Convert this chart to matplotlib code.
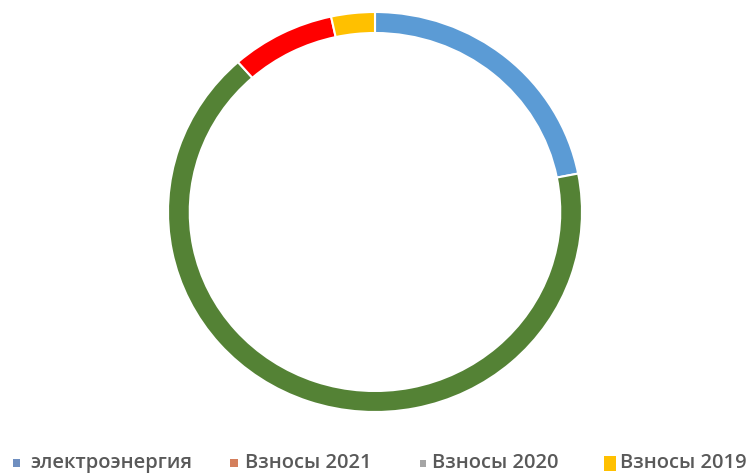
import matplotlib
matplotlib.use("Agg")
import matplotlib.pyplot as plt
from matplotlib.patches import Rectangle

# Ring segments (clockwise from top)
segment_values = [21.9, 66.5, 8.1, 3.4]
segment_colors = ["#5B9BD5", "#548235", "#FF0000", "#FFC000"]

# Legend entries (as shown under the chart)
legend_labels = ["электроэнергия", "Взносы 2021", "Взносы 2020", "Взносы 2019"]
legend_colors = ["#6F8FC0", "#D47F5C", "#A5A5A5", "#FFC000"]

W, H = 749, 474
fig = plt.figure(figsize=(W / 100, H / 100), dpi=100)
fig.patch.set_facecolor("white")

# axes placed so the ring matches the reference geometry
ax = fig.add_axes([168 / W, 62 / H, 414 / W, 400 / H])
ax.pie(segment_values, colors=segment_colors, startangle=90, counterclock=False,
       radius=1.0, wedgeprops=dict(width=0.105, edgecolor="white", linewidth=1.5))
ax.set_aspect("auto")
ax.set_xlim(-1, 1)
ax.set_ylim(-1, 1)
ax.axis("off")

# legend, laid out manually along the bottom
marker_x = [13, 230, 420, 604]
text_x = [30, 245, 432, 620]
marker_w = [7, 8, 6, 12]
marker_h = [8, 8, 7, 15]
y_c = 463
baseline = 468
for lab, col, mx, tx, mw, mh in zip(legend_labels, legend_colors, marker_x, text_x, marker_w, marker_h):
    fig.patches.append(Rectangle((mx / W, (H - y_c - mh / 2) / H), mw / W, mh / H,
                                 transform=fig.transFigure, facecolor=col, edgecolor="none"))
    fig.text(tx / W, (H - baseline) / H, lab, ha="left", va="baseline", fontsize=14.5,
             fontweight="semibold", color="#595959", family="Open Sans")

fig.savefig("out.png", dpi=100, facecolor="white")
